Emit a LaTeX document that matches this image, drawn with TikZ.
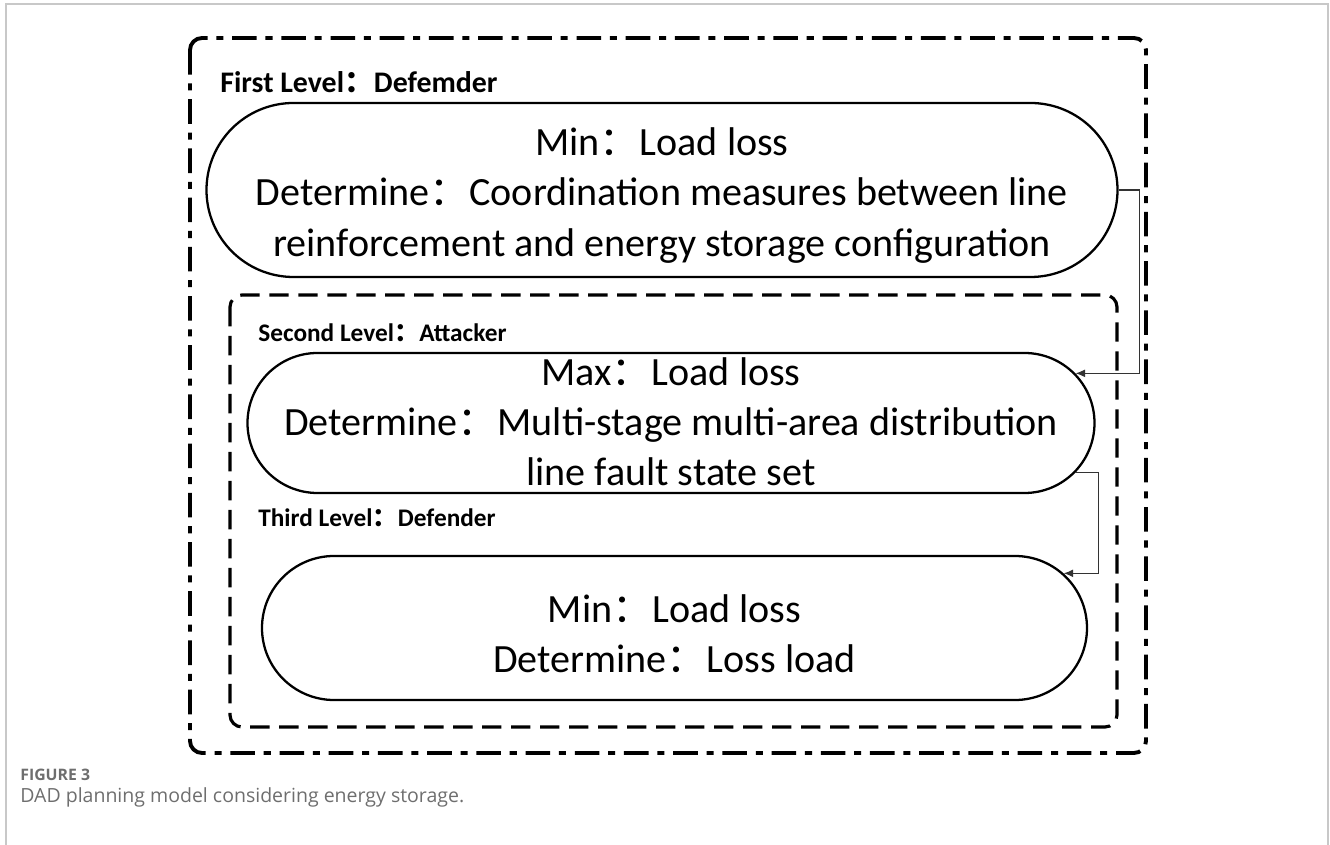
\documentclass[tikz,border=0pt]{standalone}
\usepackage{fontspec}
\setmainfont{Carlito}
\newfontfamily\cjk{Noto Sans CJK SC}
\newfontfamily\capfont{Open Sans}
\usetikzlibrary{shapes.misc, arrows.meta}
\definecolor{capgray}{RGB}{110,110,110}
\definecolor{framegray}{RGB}{200,200,200}
\newcommand{\fwc}{{\cjk ：}}

\begin{document}
\begin{tikzpicture}[>={Latex[length=5.5pt,width=4.5pt]},
        outerbox/.style={line width=2.2pt, rounded corners=0.24cm, dash pattern=on 14pt off 5pt on 4pt off 5pt},
        innerbox/.style={line width=1.8pt, rounded corners=0.24cm, dash pattern=on 11pt off 5.5pt},
        stadium/.style={draw, rounded rectangle, line width=1.3pt, inner sep=0pt},
        modeltext/.style={inner sep=0pt, align=center, font=\fontsize{22.8}{28.5}\selectfont},
        levellabel/.style={anchor=west, inner sep=0pt, font=\fontsize{14.4}{17}\selectfont\bfseries},
        flow/.style={->, line width=0.7pt, draw=black!80}]
        % Parameters
        \def\W{26.6}
        \def\H{16.9}
        \def\drop{0.11} % text sits a little low in the boxes

        % Page
        \useasboundingbox (0,0) rectangle (\W,-\H);
        \draw[framegray, line width=0.6pt] (0.12,-\H) -- (0.12,-0.08) -- (26.56,-0.08) -- (26.56,-\H);

        % Level frames
        \draw[outerbox] (3.8,-0.76) rectangle (22.92,-15.06);
        \draw[innerbox] (4.6,-5.9) rectangle (22.34,-14.54);

        % Level titles
        \node[levellabel, font=\fontsize{17}{20}\selectfont\bfseries] (first) at (4.4,-1.64) {First Level\fwc Defemder};
        \node[levellabel] (second) at (5.16,-6.66) {Second Level\fwc Attacker};
        \node[levellabel] (third) at (5.16,-10.36) {Third Level\fwc Defender};

        % Models
        \node[stadium, minimum width=18.22cm, minimum height=3.48cm] (top) at (13.24,-3.8) {};
        \node[stadium, minimum width=16.94cm, minimum height=2.8cm] (mid) at (13.42,-8.46) {};
        \node[stadium, minimum width=16.5cm, minimum height=2.88cm] (bot) at (13.49,-12.56) {};

        \node[modeltext] (toptext) at ([yshift=-\drop cm]top.center)
            {Min\fwc Load loss\\Determine\fwc Coordination measures between line\\reinforcement and energy storage configuration};
        \node[modeltext] (midtext) at ([yshift=0.03cm]mid.center)
            {Max\fwc Load loss\\Determine\fwc Multi-stage multi-area distribution\\line fault state set};
        \node[modeltext] (bottext) at ([yshift=-\drop cm]bot.center)
            {Min\fwc Load loss\\Determine\fwc Loss load};

        % Links
        \draw[flow] (top.east) -- ++(0.42,0) |- (mid.7);
        \draw[flow] (mid.-7) -- ++(0.46,0) |- (bot.8);

        % Caption
        \node[anchor=west, inner sep=0pt, text=capgray, font=\capfont\fontsize{9}{11}\selectfont\bfseries] (figno) at (0.4,-15.5) {FIGURE 3};
        \node[anchor=west, inner sep=0pt, text=capgray, font=\capfont\fontsize{11.1}{13}\selectfont] (figcap) at (0.4,-15.94) {DAD planning model considering energy storage.};

    \end{tikzpicture}
\end{document}
